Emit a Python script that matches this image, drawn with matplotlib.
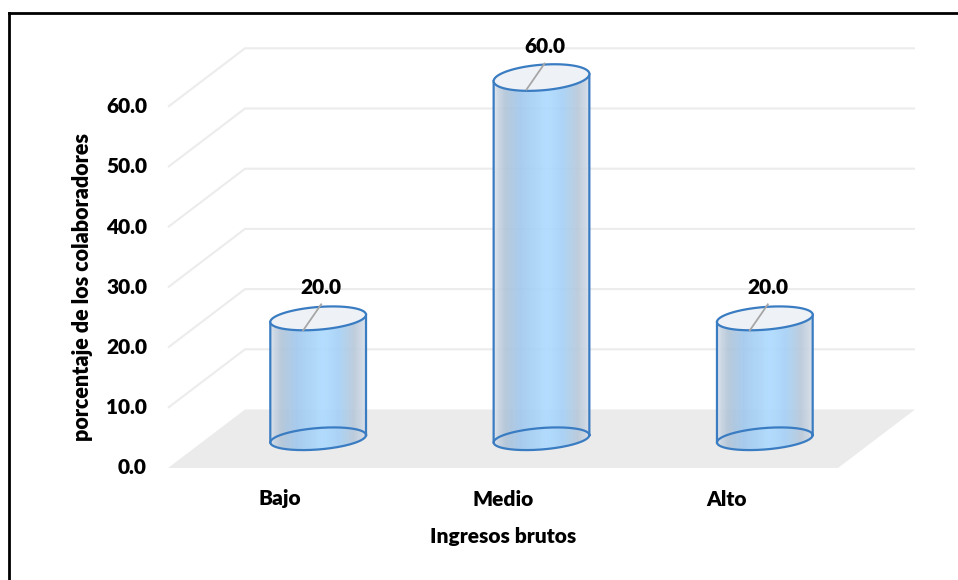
import numpy as np
import matplotlib
matplotlib.use("Agg")
import matplotlib.pyplot as plt
from matplotlib.patches import Polygon
from matplotlib.lines import Line2D

# Data
categories = ["Bajo", "Medio", "Alto"]
values = [20.0, 60.0, 20.0]
yticks = [0, 10, 20, 30, 40, 50, 60]
xlabel = "Ingresos brutos"
ylabel = "porcentaje de los colaboradores"

plt.rcParams["font.family"] = ["Lato", "DejaVu Sans"]
WEIGHT = "heavy"

W, H = 958, 580
fig = plt.figure(figsize=(W / 100, H / 100), dpi=100)
ax = fig.add_axes([0, 0, 1, 1])
ax.set_axis_off()

# Pixel scale of one category unit and one value unit on the front plane
SX = 670 / 3.0
SY = 60.2 / 10.0
X0, Y0 = 168.0, H - 468.0  # pixel position of (category 0, value 0), from bottom-left
ax.set_xlim(-X0 / SX, (W - X0) / SX)
ax.set_ylim(-Y0 / SY, (H - Y0) / SY)

# Oblique depth offset (full depth) in data units
DX = 77.0 / SX
DY = 58.5 / SY
ncat = len(categories)


def proj(x, v, d):
    return x + d * DX, v + d * DY


# Floor
fl = [proj(0, 0, 0), proj(ncat, 0, 0), proj(ncat, 0, 1), proj(0, 0, 1)]
ax.add_patch(Polygon(fl, closed=True, facecolor="#ebebeb", edgecolor="none", zorder=1))

# Gridlines: side wall diagonal + back wall horizontal
for v in yticks[1:]:
    p0, p1, p2 = proj(0, v, 0), proj(0, v, 1), proj(ncat, v, 1)
    ax.plot([p0[0], p1[0], p2[0]], [p0[1], p1[1], p2[1]], color="#ececec",
            lw=1.5, zorder=0.5, solid_capstyle="butt")

# Value tick labels
for v in yticks:
    x, y = proj(0, v, 0)
    ax.text(x - 21 / SX, y, f"{v:.1f}", ha="right", va="center",
            fontsize=15, fontweight=WEIGHT, color="black")

# Category labels
for i, c in enumerate(categories):
    x, y = proj(i + 0.5, 0, 0)
    ax.text(x, y - 31 / SY, c, ha="center", va="center",
            fontsize=15, fontweight=WEIGHT, color="black")

fig.text(503 / W, 1 - 537 / H, xlabel, ha="center", va="center",
         fontsize=15, fontweight=WEIGHT)
fig.text(83 / W, 1 - 287 / H, ylabel, ha="center", va="center",
         rotation=90, fontsize=15.5, fontweight=WEIGHT)

# Cylinders
R_PX = 48.0
THETA = np.deg2rad(4.6)
EDGE = "#3a7cc2"
grad_stops = np.array([
    [0.00, 222, 228, 236],
    [0.04, 200, 212, 226],
    [0.12, 176, 196, 216],
    [0.28, 160, 200, 238],
    [0.55, 172, 218, 255],
    [0.72, 164, 208, 246],
    [0.88, 184, 200, 218],
    [1.00, 214, 222, 232],
])
gx = np.linspace(0, 1, 200)
grad = np.ones((1, gx.size, 4))
for k in range(3):
    grad[0, :, k] = np.interp(gx, grad_stops[:, 0], grad_stops[:, k + 1]) / 255.0
grad[0, :, 3] = 0.9


def ellipse(cx, cy, b_px, t):
    xp = R_PX * np.cos(t) * np.cos(THETA) - b_px * np.sin(t) * np.sin(THETA)
    yp = R_PX * np.cos(t) * np.sin(THETA) + b_px * np.sin(t) * np.cos(THETA)
    return cx + xp / SX, cy + yp / SY


def extremes(b_px):
    t0 = np.arctan(-(b_px / R_PX) * np.tan(THETA))
    return t0, t0 + np.pi  # right, left


for i, v in enumerate(values):
    cx, cy0 = proj(i + 0.5, 0, 0.5)
    cy1 = cy0 + v
    hpx = v * SY
    b0 = 10.7
    b1 = 10.6 + 0.006 * hpx
    tr0, tl0 = extremes(b0)
    tr1, tl1 = extremes(b1)

    # body outline: front arc of base (left -> right), back arc of top (right -> left)
    tb = np.linspace(tl0, tr0 + 2 * np.pi, 200)
    tt = np.linspace(tr1, tl1, 200)
    bx, by = ellipse(cx, cy0, b0, tb)
    tx, ty = ellipse(cx, cy1, b1, tt)
    body = Polygon(np.column_stack([np.r_[bx, tx], np.r_[by, ty]]), closed=True,
                   facecolor="none", edgecolor="none", zorder=3)
    ax.add_patch(body)
    xl, xr = cx - R_PX / SX, cx + R_PX / SX
    im = ax.imshow(grad, extent=[xl, xr, cy0 - 20 / SY, cy1 + 20 / SY],
                   aspect="auto", interpolation="bilinear", zorder=3)
    im.set_clip_path(body)

    # base ellipse outline (whole ring visible through the body)
    ta = np.linspace(0, 2 * np.pi, 300)
    ex, ey = ellipse(cx, cy0, b0, ta)
    ax.plot(ex, ey, color=EDGE, lw=1.6, zorder=4)

    # side lines
    for tsa, tsb in ((tl0, tl1), (tr0, tr1)):
        xa, ya = ellipse(cx, cy0, b0, np.array([tsa]))
        xb, yb = ellipse(cx, cy1, b1, np.array([tsb]))
        ax.plot([xa[0], xb[0]], [ya[0], yb[0]], color=EDGE, lw=1.6, zorder=4)

    # top cap
    ex, ey = ellipse(cx, cy1, b1, ta)
    ax.add_patch(Polygon(np.column_stack([ex, ey]), closed=True, facecolor="#eef2f6",
                         edgecolor=EDGE, lw=1.6, zorder=5))

    # data label with leader line
    ax.plot([cx - 15 / SX, cx + 3 / SX], [cy1 - 12 / SY, cy1 + 14 / SY],
            color="#a6a6a6", lw=1.3, zorder=6)
    ax.text(cx + 3 / SX, cy1 + 31 / SY, f"{v:.1f}", ha="center", va="center",
            fontsize=15, fontweight=WEIGHT, zorder=7)

# Chart frame (top and left edges)
fig.add_artist(Line2D([8.5 / W, 1.0], [1 - 12.5 / H, 1 - 12.5 / H], color="black", lw=2.0))
fig.add_artist(Line2D([8.5 / W, 8.5 / W], [1 - 12.5 / H, 0.0], color="black", lw=2.0))

fig.savefig("out.png", dpi=100)
